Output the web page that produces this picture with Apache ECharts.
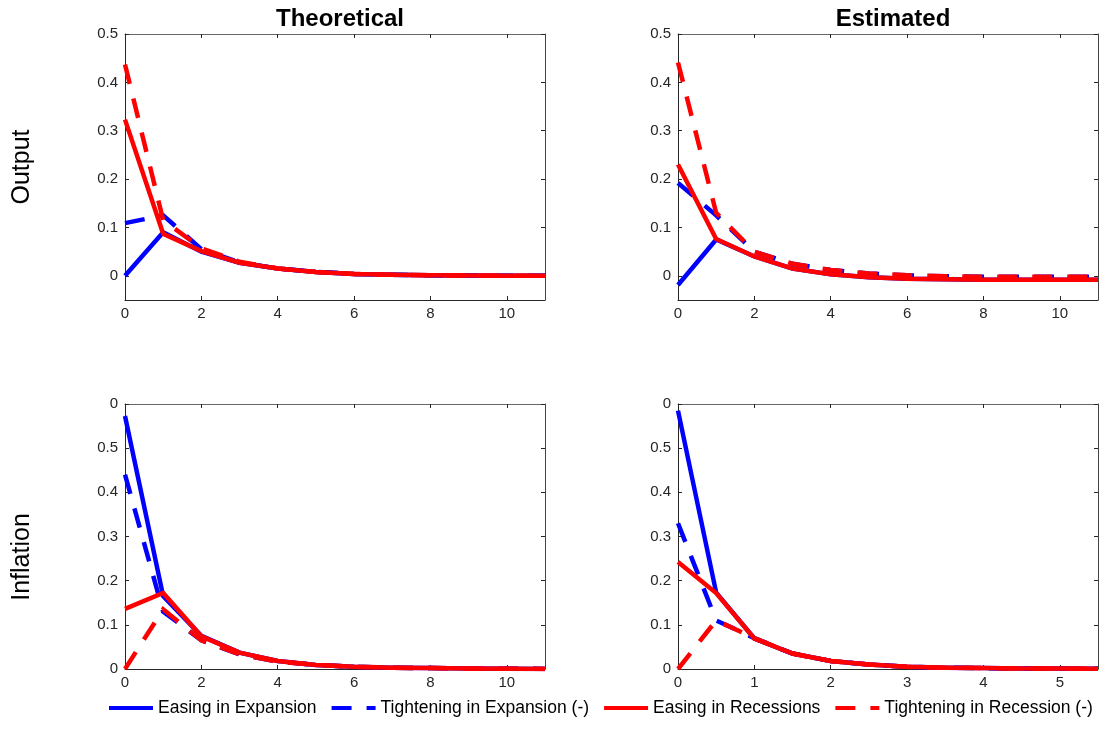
<!DOCTYPE html>
<html>
<head>
<meta charset="utf-8">
<script src="https://cdn.jsdelivr.net/npm/echarts@6/dist/echarts.min.js"></script>
<style>
  html, body { margin: 0; padding: 0; background: #fff; }
  #chart { width: 1107px; height: 749px; }
</style>
</head>
<body>
<div id="chart"></div>
<script>
// ---------------- data ----------------
const seriesNames = ['Easing in Expansion', 'Tightening in Expansion (-)', 'Easing in Recessions', 'Tightening in Recession (-)'];
const panelTitles = ['Theoretical', 'Estimated'];
const rowLabels = ['Output', 'Inflation'];

const horizonQ = [0, 1, 2, 3, 4, 5, 6, 7, 8, 9, 10, 11];
const horizonHalf = [0, 0.5, 1, 1.5, 2, 2.5, 3, 3.5, 4, 4.5, 5, 5.5];

const xTicks11 = [0, 2, 4, 6, 8, 10];
const xTicks55 = [0, 1, 2, 3, 4, 5];
const yTicksOutput = [0, 0.1, 0.2, 0.3, 0.4, 0.5];
const yLabelsOutput = ['0', '0.1', '0.2', '0.3', '0.4', '0.5'];
const yTicksInflation = [0, 0.1, 0.2, 0.3, 0.4, 0.5, 0.6];
const yLabelsInflation = ['0', '0.1', '0.2', '0.3', '0.4', '0.5', '0'];

// Theoretical - Output
const theoOutEaseExp   = [0, 0.09, 0.05, 0.027, 0.015, 0.008, 0.004, 0.002, 0.001, 0.0005, 0.0002, 0.0001];
const theoOutTightExp  = [0.109, 0.125, 0.055, 0.028, 0.015, 0.008, 0.004, 0.002, 0.001, 0.0005, 0.0002, 0.0001];
const theoOutEaseRec   = [0.323, 0.087, 0.051, 0.027, 0.015, 0.008, 0.004, 0.002, 0.001, 0.0005, 0.0002, 0.0001];
const theoOutTightRec  = [0.437, 0.115, 0.057, 0.029, 0.015, 0.008, 0.004, 0.002, 0.001, 0.0005, 0.0002, 0.0001];

// Estimated - Output
const estOutEaseExp    = [-0.019, 0.075, 0.04, 0.015, 0.003, -0.003, -0.006, -0.007, -0.008, -0.008, -0.008, -0.008];
const estOutTightExp   = [0.192, 0.125, 0.05, 0.025, 0.012, 0.005, 0.001, -0.001, -0.002, -0.002, -0.002, -0.002];
const estOutEaseRec    = [0.23, 0.076, 0.04, 0.015, 0.003, -0.003, -0.006, -0.007, -0.008, -0.008, -0.008, -0.008];
const estOutTightRec   = [0.441, 0.13, 0.05, 0.025, 0.012, 0.005, 0.001, -0.001, -0.002, -0.002, -0.002, -0.002];

// Theoretical - Inflation
const theoInfEaseExp   = [0.573, 0.165, 0.075, 0.037, 0.018, 0.009, 0.005, 0.003, 0.002, 0.001, 0.0005, 0.0002];
const theoInfTightExp  = [0.44, 0.13, 0.065, 0.033, 0.017, 0.009, 0.005, 0.003, 0.002, 0.001, 0.0005, 0.0002];
const theoInfEaseRec   = [0.136, 0.172, 0.074, 0.037, 0.018, 0.009, 0.005, 0.003, 0.002, 0.001, 0.0005, 0.0002];
const theoInfTightRec  = [0, 0.135, 0.065, 0.033, 0.017, 0.009, 0.005, 0.003, 0.002, 0.001, 0.0005, 0.0002];

// Estimated - Inflation
const estInfEaseExp    = [0.585, 0.173, 0.069, 0.035, 0.018, 0.01, 0.005, 0.003, 0.002, 0.001, 0.001, 0.0005];
const estInfTightExp   = [0.33, 0.11, 0.07, 0.035, 0.018, 0.01, 0.005, 0.003, 0.002, 0.001, 0.001, 0.0005];
const estInfEaseRec    = [0.242, 0.172, 0.069, 0.035, 0.018, 0.01, 0.005, 0.003, 0.002, 0.001, 0.001, 0.0005];
const estInfTightRec   = [0, 0.11, 0.07, 0.035, 0.018, 0.01, 0.005, 0.003, 0.002, 0.001, 0.001, 0.0005];

// ---------------- chart ----------------
const FONT = 'Liberation Sans, Arial, Helvetica, sans-serif';
const AXIS_COLOR = '#262626';
const BLUE = '#0000ff';
const RED = '#ff0000';
const DASH = [20, 15];
const LW = 4.5;

const panels = [
  { grid: { left: 125, top: 34, width: 420, height: 266 }, x: horizonQ, xmax: 11, xticks: xTicks11,
    ymin: -0.05, ymax: 0.5, yticks: yTicksOutput, ylabels: yLabelsOutput,
    data: [theoOutEaseExp, theoOutTightExp, theoOutEaseRec, theoOutTightRec] },
  { grid: { left: 678, top: 34, width: 420, height: 266 }, x: horizonQ, xmax: 11, xticks: xTicks11,
    ymin: -0.05, ymax: 0.5, yticks: yTicksOutput, ylabels: yLabelsOutput,
    data: [estOutEaseExp, estOutTightExp, estOutEaseRec, estOutTightRec] },
  { grid: { left: 125, top: 404, width: 420, height: 265 }, x: horizonQ, xmax: 11, xticks: xTicks11,
    ymin: 0, ymax: 0.6, yticks: yTicksInflation, ylabels: yLabelsInflation,
    data: [theoInfEaseExp, theoInfTightExp, theoInfEaseRec, theoInfTightRec] },
  { grid: { left: 678, top: 404, width: 420, height: 265 }, x: horizonHalf, xmax: 5.5, xticks: xTicks55,
    ymin: 0, ymax: 0.6, yticks: yTicksInflation, ylabels: yLabelsInflation,
    data: [estInfEaseExp, estInfTightExp, estInfEaseRec, estInfTightRec] }
];

const styles = [
  { color: BLUE, type: 'solid' },
  { color: BLUE, type: DASH },
  { color: RED, type: 'solid' },
  { color: RED, type: DASH }
];

function labelFor(ticks, labels) {
  return function (v) {
    for (let i = 0; i < ticks.length; i++) {
      if (Math.abs(ticks[i] - v) < 1e-9) return labels[i];
    }
    return '';
  };
}

const grids = [], xAxes = [], yAxes = [], series = [];
panels.forEach((p, gi) => {
  grids.push(Object.assign({ show: false }, p.grid));
  xAxes.push({
    type: 'value', gridIndex: gi, min: 0, max: p.xmax, position: 'bottom',
    axisLine: { show: true, onZero: false, lineStyle: { color: AXIS_COLOR, width: 1 } },
    axisTick: { show: true, inside: true, length: 4, customValues: p.xticks, lineStyle: { color: AXIS_COLOR } },
    axisLabel: { show: true, customValues: p.xticks, margin: 6, color: AXIS_COLOR, fontSize: 15, fontFamily: FONT },
    splitLine: { show: false }
  });
  yAxes.push({
    type: 'value', gridIndex: gi, min: p.ymin, max: p.ymax, position: 'left',
    axisLine: { show: true, onZero: false, lineStyle: { color: AXIS_COLOR, width: 1 } },
    axisTick: { show: true, inside: true, length: 4, customValues: p.yticks, lineStyle: { color: AXIS_COLOR } },
    axisLabel: { show: true, customValues: p.yticks, margin: 7, color: AXIS_COLOR, fontSize: 15, fontFamily: FONT,
                 formatter: labelFor(p.yticks, p.ylabels) },
    splitLine: { show: false }
  });
  p.data.forEach((vals, si) => {
    series.push({
      name: seriesNames[si], type: 'line', xAxisIndex: gi, yAxisIndex: gi,
      symbol: 'none', showSymbol: false, smooth: false, clip: true, animation: false,
      lineStyle: { color: styles[si].color, width: LW, type: styles[si].type, cap: 'butt', join: 'miter' },
      itemStyle: { color: styles[si].color },
      data: p.x.map((xv, k) => [xv, vals[k]]),
      z: 2 + si
    });
  });
});
// box (top / right) axes with inward ticks
panels.forEach((p, gi) => {
  xAxes.push({
    type: 'value', gridIndex: gi, min: 0, max: p.xmax, position: 'top',
    axisLine: { show: true, onZero: false, lineStyle: { color: '#666', width: 1 } },
    axisTick: { show: true, inside: true, length: 4, customValues: p.xticks, lineStyle: { color: AXIS_COLOR } },
    axisLabel: { show: false }, splitLine: { show: false }
  });
  yAxes.push({
    type: 'value', gridIndex: gi, min: p.ymin, max: p.ymax, position: 'right',
    axisLine: { show: true, onZero: false, lineStyle: { color: '#444', width: 1 } },
    axisTick: { show: true, inside: true, length: 4, customValues: p.yticks, lineStyle: { color: AXIS_COLOR } },
    axisLabel: { show: false }, splitLine: { show: false }
  });
});

const option = {
  backgroundColor: '#ffffff',
  animation: false,
  title: [
    { text: panelTitles[0], left: 335, top: 2, textAlign: 'center',
      textStyle: { fontSize: 24, fontWeight: 'bold', color: '#000', fontFamily: FONT } },
    { text: panelTitles[1], left: 888, top: 2, textAlign: 'center',
      textStyle: { fontSize: 24, fontWeight: 'bold', color: '#000', fontFamily: FONT } }
  ],
  graphic: [
    { type: 'text', x: 22, y: 167, rotation: Math.PI / 2,
      style: { text: rowLabels[0], fill: '#000', font: '25px ' + FONT, align: 'center', verticalAlign: 'middle' } },
    { type: 'text', x: 22, y: 557, rotation: Math.PI / 2,
      style: { text: rowLabels[1], fill: '#000', font: '25px ' + FONT, align: 'center', verticalAlign: 'middle' } }
  ],
  legend: {
    data: seriesNames,
    left: 107, top: 699, width: 1000,
    padding: 0,
    orient: 'horizontal',
    itemWidth: 44, itemHeight: 14, itemGap: 13,
    itemStyle: { opacity: 0 },
    lineStyle: { width: 4 },
    textStyle: { fontSize: 17.5, color: '#000', fontFamily: FONT },
    selectedMode: false
  },
  grid: grids,
  xAxis: xAxes,
  yAxis: yAxes,
  series: series
};

const chart = echarts.init(document.getElementById('chart'), null, { renderer: 'canvas' });
chart.setOption(option);
</script>
</body>
</html>
